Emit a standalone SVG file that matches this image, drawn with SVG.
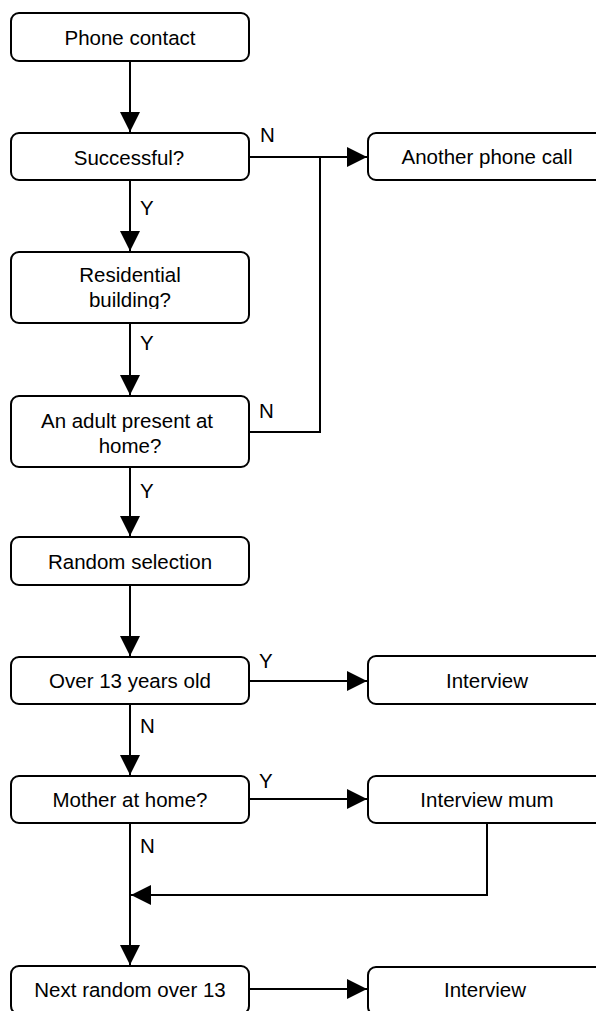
<svg xmlns="http://www.w3.org/2000/svg" width="596" height="1011" viewBox="0 0 596 1011">
<style>
.box{fill:#fff;stroke:#000;stroke-width:2}
.t{font-family:"Liberation Sans",Arial,sans-serif;font-size:20.5px;fill:#000;text-anchor:middle}
.l{font-family:"Liberation Sans",Arial,sans-serif;font-size:20.5px;fill:#000}
.c{fill:none;stroke:#000;stroke-width:2}
</style>
<defs>
<marker id="ah" markerUnits="userSpaceOnUse" markerWidth="20" markerHeight="20" refX="20" refY="10" orient="auto" viewBox="0 0 20 20">
<path d="M0,0 L20,10 L0,20 z" fill="#000"/>
</marker>
<clipPath id="resClip"><rect x="0" y="250" width="260" height="59"/></clipPath>
</defs>
<rect width="596" height="1011" fill="#fff"/>
<g id="connectors">
<line class="c" x1="130" y1="61" x2="130" y2="132" marker-end="url(#ah)"/>
<line class="c" x1="249" y1="157" x2="367" y2="157" marker-end="url(#ah)"/>
<polyline class="c" points="320,157 320,432 249,432"/>
<line class="c" x1="130" y1="180" x2="130" y2="251" marker-end="url(#ah)"/>
<line class="c" x1="130" y1="323" x2="130" y2="395" marker-end="url(#ah)"/>
<line class="c" x1="130" y1="467" x2="130" y2="536" marker-end="url(#ah)"/>
<line class="c" x1="130" y1="585" x2="130" y2="656" marker-end="url(#ah)"/>
<line class="c" x1="249" y1="681" x2="367" y2="681" marker-end="url(#ah)"/>
<line class="c" x1="130" y1="704" x2="130" y2="775" marker-end="url(#ah)"/>
<line class="c" x1="249" y1="799" x2="367" y2="799" marker-end="url(#ah)"/>
<line class="c" x1="130" y1="823" x2="130" y2="965" marker-end="url(#ah)"/>
<polyline class="c" points="487,823 487,895 131,895" marker-end="url(#ah)"/>
<line class="c" x1="249" y1="989" x2="367" y2="989" marker-end="url(#ah)"/>
<text class="l" x="260" y="142">N</text>
<text class="l" x="140" y="215">Y</text>
<text class="l" x="140" y="350">Y</text>
<text class="l" x="259" y="418">N</text>
<text class="l" x="140" y="498">Y</text>
<text class="l" x="259" y="668">Y</text>
<text class="l" x="140" y="733">N</text>
<text class="l" x="259" y="788">Y</text>
<text class="l" x="140" y="853">N</text>
</g>
<g id="phone-contact">
<rect class="box" x="11" y="13" width="238" height="48" rx="8"/>
<text class="t" x="130" y="45">Phone contact</text>
</g>
<g id="successful">
<rect class="box" x="11" y="133" width="238" height="47" rx="8"/>
<text class="t" x="129" y="165">Successful?</text>
</g>
<g id="another-phone-call">
<rect class="box" x="368" y="133" width="238" height="47" rx="8"/>
<text class="t" x="487" y="164">Another phone call</text>
</g>
<g id="residential">
<rect class="box" x="11" y="252" width="238" height="71" rx="8"/>
<g clip-path="url(#resClip)">
<text class="t" x="130" y="282">Residential</text>
<text class="t" x="130" y="307">building?</text>
</g>
</g>
<g id="adult">
<rect class="box" x="11" y="396" width="238" height="71" rx="8"/>
<text class="t" x="127" y="428">An adult present at</text>
<text class="t" x="130" y="453">home?</text>
</g>
<g id="random-selection">
<rect class="box" x="11" y="537" width="238" height="48" rx="8"/>
<text class="t" x="130" y="569">Random selection</text>
</g>
<g id="over13">
<rect class="box" x="11" y="657" width="238" height="47" rx="8"/>
<text class="t" x="130" y="688">Over 13 years old</text>
</g>
<g id="interview1">
<rect class="box" x="368" y="656" width="238" height="48" rx="8"/>
<text class="t" x="487" y="688">Interview</text>
</g>
<g id="mother">
<rect class="box" x="11" y="776" width="238" height="47" rx="8"/>
<text class="t" x="130" y="807">Mother at home?</text>
</g>
<g id="interview-mum">
<rect class="box" x="368" y="776" width="238" height="47" rx="8"/>
<text class="t" x="487" y="807">Interview mum</text>
</g>
<g id="next-random">
<rect class="box" x="11" y="966" width="238" height="48" rx="8"/>
<text class="t" x="130" y="997">Next random over 13</text>
</g>
<g id="interview2">
<rect class="box" x="368" y="967" width="238" height="48" rx="8"/>
<text class="t" x="485" y="997">Interview</text>
</g>
</svg>
